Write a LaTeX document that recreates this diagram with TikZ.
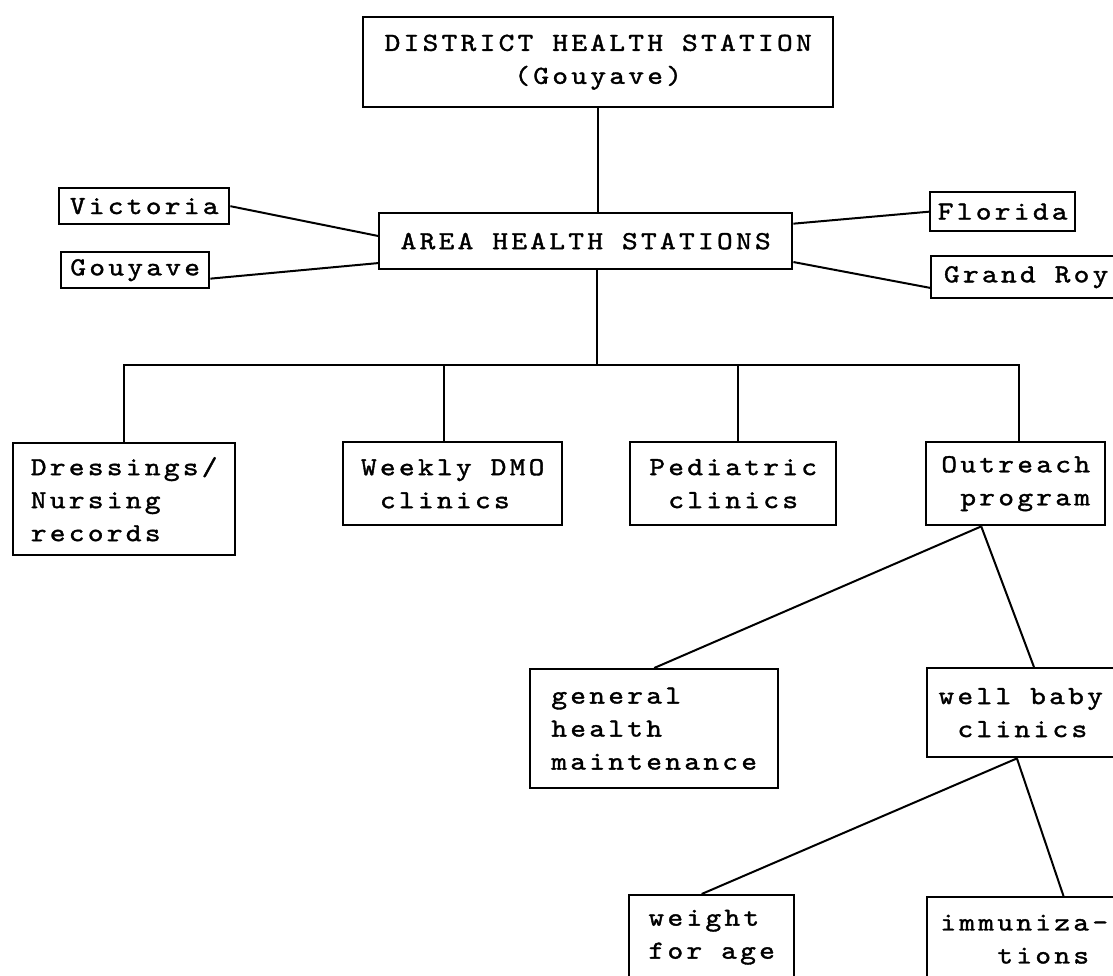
\documentclass[tikz,border=0pt]{standalone}
\usepackage{fontspec}
\usetikzlibrary{calc}
% typewriter lettering: Latin Modern Mono, widened and tracked out to a 19pt pitch
\newfontfamily\typewriter{lmmono10-regular}[Extension=.otf, FakeStretch=1.15, LetterSpace=12.7, FakeBold=1.4]
\newcommand\boxfont{\typewriter\fontsize{26}{33}\selectfont}
\tikzset{
  box/.style={draw, line width=2.4pt, rectangle, inner sep=0pt, anchor=north west, font=\boxfont},
  link/.style={line width=2pt},
}
\begin{document}
\begin{tikzpicture}[x=1pt,y=-1pt]
\fill[white] (0,0) rectangle (1113,976);
\useasboundingbox (0,0) rectangle (1113,976);
\begin{scope}
\clip (0,0) rectangle (1113,976);
% top levels
\node[box, minimum width=470pt, minimum height=90pt, align=center] (dist) at (362,16) {DISTRICT HEALTH STATION\\(Gouyave)};
\node[box, minimum width=413pt, minimum height=56pt] (area) at (378,212) {AREA HEALTH STATIONS};
\node[box, minimum width=170pt, minimum height=36pt] (vic) at (58,187) {Victoria};
\node[box, minimum width=148pt, minimum height=36pt] (gou) at (60,251) {Gouyave};
\node[box, minimum width=145pt, minimum height=39pt] (flo) at (929,191) {Florida};
\node[box, minimum width=190pt, minimum height=42pt] (gro) at (930,255) {Grand Roy};
% services
\node[box, minimum width=222pt, minimum height=112pt, align=left] (dress) at (12,442) {Dressings/\\Nursing\\records};
\node[box, minimum width=219pt, minimum height=83pt, align=left] (dmo) at (342,441) {Weekly DMO\\\hspace*{19pt}clinics};
\node[box, minimum width=206pt, minimum height=83pt, align=left] (ped) at (629,441) {Pediatric\\\hspace*{19pt}clinics};
\node[box, minimum width=179pt, minimum height=83pt, align=left] (out) at (925,441) {Outreach\\\hspace*{19pt}program};
% outreach branches
\node[box, minimum width=248pt, minimum height=119pt, align=left] (gen) at (529,668) {general\\health\\maintenance};
\node[box, minimum width=187pt, minimum height=89pt, align=left] (wb) at (926,667) {well baby\\\hspace*{19pt}clinics};
\node[box, minimum width=165pt, minimum height=84pt, align=left] (wt) at (628,894) {weight\\for age};
\node[box, minimum width=194pt, minimum height=84pt, align=left] (imm) at (926,896) {immuniza-\\\hspace*{57pt}tions};

% district -> area
\draw[link] (dist.south) -- (dist.south |- area.north);
% area stations
\draw[link] (vic.east) -- ($(area.north west)!0.41!(area.south west)$);
\draw[link] ($(gou.north east)!0.72!(gou.south east)$) -- ($(area.north west)!0.875!(area.south west)$);
\draw[link] ($(area.north east)!0.2!(area.south east)$) -- (flo.west);
\draw[link] ($(area.north east)!0.857!(area.south east)$) -- ($(gro.north west)!0.74!(gro.south west)$);
% service bar
\coordinate (bar) at (597,365);
\coordinate (dmotop) at ($(dmo.north west)!0.46!(dmo.north east)$);
\coordinate (pedtop) at ($(ped.north west)!0.524!(ped.north east)$);
\coordinate (outtop) at ($(out.north west)!0.52!(out.north east)$);
\draw[link] (area.south -| bar) -- (bar);
\draw[link] (dress.north) -- (dress.north |- bar) -- (outtop |- bar) -- (outtop);
\draw[link] (dmotop) -- (dmotop |- bar);
\draw[link] (pedtop) -- (pedtop |- bar);
% outreach fan
\coordinate (outfoot) at ($(out.south west)!0.31!(out.south east)$);
\draw[link] (outfoot) -- (gen.north);
\draw[link] (outfoot) -- ($(wb.north west)!0.57!(wb.north east)$);
% well baby fan
\coordinate (wbfoot) at ($(wb.south west)!0.48!(wb.south east)$);
\draw[link] (wbfoot) -- ($(wt.north west)!0.44!(wt.north east)$);
\draw[link] (wbfoot) -- ($(imm.north west)!0.7!(imm.north east)$);
\end{scope}
\end{tikzpicture}
\end{document}
